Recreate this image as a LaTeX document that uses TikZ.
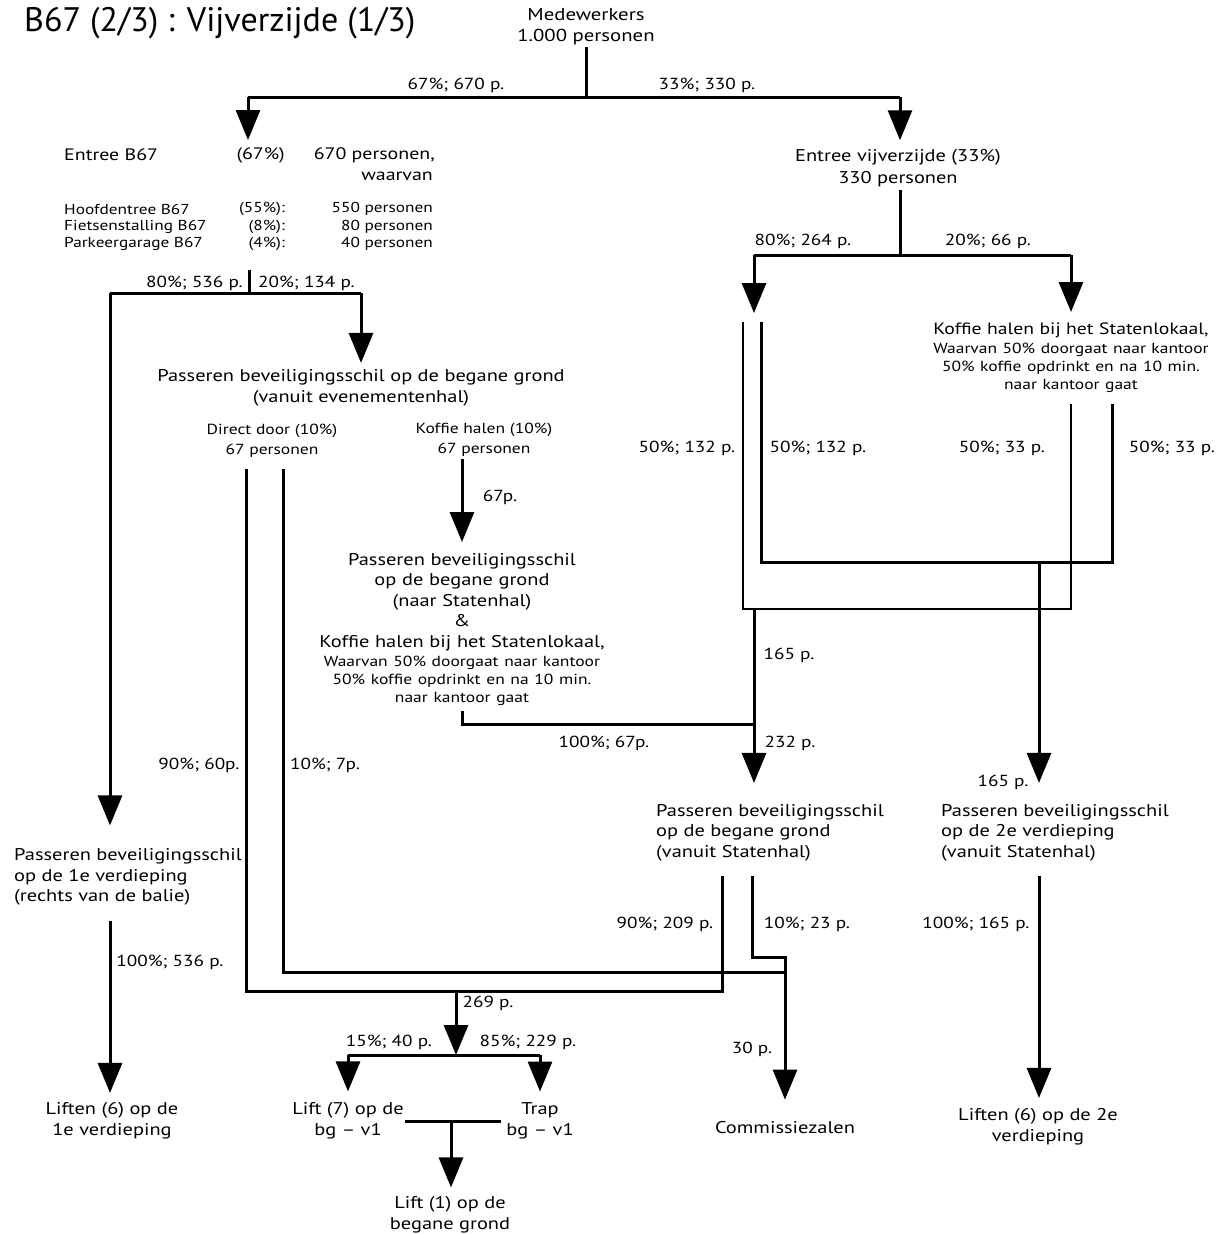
\documentclass[tikz,border=0pt]{standalone}
\usepackage{fontspec}
\setmainfont{PT Sans}[FakeStretch=1.2]
\newfontfamily\titlefont{PT Sans}
\usetikzlibrary{arrows.meta,calc}
\begin{document}
\begin{tikzpicture}[x=1pt,y=-1pt,
  every node/.style={inner sep=0pt, text=black},
  big/.style={font=\fontsize{17}{21}\selectfont, align=center},
  bigl/.style={font=\fontsize{17}{20.5}\selectfont, align=left},
  lbl/.style={font=\fontsize{16}{19}\selectfont},
  ent/.style={font=\fontsize{16.6}{19}\selectfont},
  sml/.style={font=\fontsize{14.6}{19.5}\selectfont, align=center},
  tny/.style={font=\fontsize{14.4}{17}\selectfont},
  mixed/.style={font=\fontsize{17}{20.5}\selectfont, text width=360pt, align=center, anchor=north},
  ln/.style={line width=3pt},
  arr/.style={line width=3pt, -{Triangle[width=24pt,length=30pt]}},
]
\useasboundingbox (0,0) rectangle (1216,1235);

% ---------- nodes ----------
\node[anchor=west, font=\titlefont\fontsize{34}{40}\selectfont] (title) at (24,23) {B67 (2/3) : Vijverzijde (1/3)};
\node[sml, font=\fontsize{17.3}{21}\selectfont] (med) at (586,26.5) {Medewerkers\\1.000 personen};

\node[ent, anchor=west] (e1) at (64,155) {Entree B67};
\node[ent, anchor=east] (e2) at (285,155) {(67\%)};
\node[ent, anchor=east] (e3) at (435,155) {670 personen,};
\node[ent, anchor=east] (e4) at (433,176) {waarvan};
\node[tny, anchor=west] (h1) at (64,209) {Hoofdentree B67};
\node[tny, anchor=east] (h2) at (285,209) {(55\%):};
\node[tny, anchor=east] (h3) at (433,209) {550 personen};
\node[tny, anchor=west] (f1) at (64,227) {Fietsenstalling B67};
\node[tny, anchor=east] (f2) at (285,227) {(8\%):};
\node[tny, anchor=east] (f3) at (433,227) {80 personen};
\node[tny, anchor=west] (p1) at (64,244) {Parkeergarage B67};
\node[tny, anchor=east] (p2) at (285,244) {(4\%):};
\node[tny, anchor=east] (p3) at (433,244) {40 personen};

\node[big, font=\fontsize{17}{21.5}\selectfont] (ev) at (898,168) {Entree vijverzijde (33\%)\\330 personen};

\node[big] (pbg) at (361,387.5) {Passeren beveiligingsschil op de begane grond\\(vanuit evenementenhal)};
\node[sml] (dd) at (272,440.5) {Direct door (10\%)\\67 personen};
\node[sml] (kh) at (484,439.5) {Koffie halen (10\%)\\67 personen};

\node[mixed] (mid) at (462,553) {Passeren beveiligingsschil\\op de begane grond\\(naar Statenhal)\\\&\\Koffie halen bij het Statenlokaal,\par\vspace{1pt}\fontsize{14.6}{18}\selectfont Waarvan 50\% doorgaat naar kantoor\\50\% koffie opdrinkt en na 10 min.\\naar kantoor gaat\par};

\node[mixed, font=\fontsize{16.4}{20.5}\selectfont] (kr) at (1071,323) {Koffie halen bij het Statenlokaal,\par\vspace{1pt}\fontsize{14.6}{18}\selectfont Waarvan 50\% doorgaat naar kantoor\\50\% koffie opdrinkt en na 10 min.\\naar kantoor gaat\par};

\node[bigl, anchor=west] (pf1) at (14,877) {Passeren beveiligingsschil\\op de 1e verdieping\\(rechts van de balie)};
\node[bigl, anchor=west] (pbs) at (656,832.5) {Passeren beveiligingsschil\\op de begane grond\\(vanuit Statenhal)};
\node[bigl, anchor=west] (p2e) at (941,832.5) {Passeren beveiligingsschil\\op de 2e verdieping\\(vanuit Statenhal)};

\node[big] (l6a) at (112,1120.5) {Liften (6) op de\\1e verdieping};
\node[big] (lift7) at (348,1121) {Lift (7) op de\\bg -- v1};
\node[big] (trap) at (540,1121) {Trap\\bg -- v1};
\node[big] (lift1) at (450,1215) {Lift (1) op de\\begane grond};
\node[big] (comm) at (785,1128) {Commissiezalen};
\node[big] (l6b) at (1038,1126.5) {Liften (6) op de 2e\\verdieping};

% ---------- labels ----------
\node[lbl] (t1) at (456,85) {67\%; 670 p.};
\node[lbl] (t2) at (707,85) {33\%; 330 p.};
\node[lbl, anchor=east] (t3) at (243,283) {80\%; 536 p.};
\node[lbl, anchor=west] (t4) at (258,283) {20\%; 134 p.};
\node[lbl] (t5) at (803,241) {80\%; 264 p.};
\node[lbl] (t6) at (988,241) {20\%; 66 p.};
\node[lbl] (t7) at (687,448) {50\%; 132 p.};
\node[lbl] (t8) at (818,448) {50\%; 132 p.};
\node[lbl] (t9) at (1002,448) {50\%; 33 p.};
\node[lbl] (t10) at (1172,448) {50\%; 33 p.};
\node[lbl] (t11) at (500,497) {67p.};
\node[lbl] (t12) at (789,655) {165 p.};
\node[lbl] (t13) at (604,743) {100\%; 67p.};
\node[lbl] (t14) at (790,743) {232 p.};
\node[lbl] (t15) at (199,765) {90\%; 60p.};
\node[lbl] (t16) at (325,765) {10\%; 7p.};
\node[lbl] (t17) at (1003,782) {165 p.};
\node[lbl] (t18) at (665,924) {90\%; 209 p.};
\node[lbl] (t19) at (807,924) {10\%; 23 p.};
\node[lbl] (t20) at (976,924) {100\%; 165 p.};
\node[lbl] (t21) at (170,962) {100\%; 536 p.};
\node[lbl] (t22) at (488,1003) {269 p.};
\node[lbl] (t23) at (389,1042) {15\%; 40 p.};
\node[lbl] (t24) at (528,1042) {85\%; 229 p.};
\node[lbl] (t25) at (752,1049) {30 p.};

% ---------- junction coordinates ----------
\coordinate (j0) at (586,97);
\coordinate (ja) at (248,97);
\coordinate (jb) at (900,97);
\coordinate (jB) at (249,270);
\coordinate (jBm) at (249,293);
\coordinate (jl) at (110,293);
\coordinate (jr) at (361,293);
\coordinate (xm) at (462,0);
\coordinate (c1) at (246,991);
\coordinate (c2) at (722,991);
\coordinate (c3) at (283,972);
\coordinate (c4) at (785,972);
\coordinate (c5) at (752,957);
\coordinate (c6) at (785,957);
\coordinate (c7) at (456,991);
\coordinate (c8) at (456,1055);
\coordinate (c9) at (348,1055);
\coordinate (c10) at (540,1055);
\coordinate (jm) at (451,1121);
\coordinate (d1) at (462,724);
\coordinate (d2) at (754,724);
\coordinate (d3) at (754,609);
\coordinate (v0) at (900,255);
\coordinate (vl) at (754,255);
\coordinate (vr) at (1071,255);
\coordinate (vt) at (754,313);
\coordinate (r1) at (743,322);
\coordinate (r2) at (743,609);
\coordinate (r3) at (1071,609);
\coordinate (q1) at (761,322);
\coordinate (q2) at (761,562);
\coordinate (q3) at (1112,562);
\coordinate (s1) at (1039,562);

% ---------- connectors ----------
\draw[ln, shorten <=2pt] (med.south -| j0) -- (j0);
\draw[ln] (ja) -- (jb);
\draw[arr, shorten >=7pt] (ja) -- (ja |- e2.north);
\draw[arr, shorten >=9pt] (jb) -- (jb |- ev.north);

\draw[ln] (jB) -- (jBm);
\draw[ln] (jl) -- (jr);
\draw[arr, shorten >=23pt] (jl) -- (jl |- pf1.north);
\draw[arr, shorten >=6pt] (jr) -- (jr |- pbg.north);

\draw[arr, shorten <=3pt, shorten >=11pt] (kh.south -| xm) -- (xm |- mid.north);
\draw[ln, shorten <=12pt, shorten >=15pt] (dd.south -| c1) -- (c1) -- (c2) -- (c2 |- pbs.south);
\draw[ln, shorten <=12pt] (dd.south -| c3) -- (c3) -- (c4);
\draw[arr, shorten <=15pt, shorten >=22pt] (pbs.south -| c5) -- (c5) -- (c6) -- (c6 |- comm.north);

\draw[arr] (c7) -- (c8);
\draw[ln] (c9) -- (c10);
\draw[arr, shorten >=11pt] (c9) -- (c9 |- lift7.north);
\draw[arr, shorten >=11pt] (c10) -- (c10 |- trap.north);
\draw[ln, shorten <=1pt, shorten >=5pt] (lift7.east |- jm) -- (trap.west |- jm);
\draw[arr, shorten >=9pt] (jm) -- (jm |- lift1.north);

\draw[arr, shorten <=15pt, shorten >=9pt] (pf1.south -| jl) -- (jl |- l6a.north);

\draw[ln, shorten <=5pt] (mid.south -| d1) -- (d1) -- (d2);
\draw[arr, shorten >=21pt] (d3) -- (d3 |- pbs.north);

\draw[ln, shorten <=3pt] (ev.south -| v0) -- (v0);
\draw[ln] (vl) -- (vr);
\draw[arr] (vl) -- (vt);
\draw[arr, shorten >=11pt] (vr) -- (vr |- kr.north);
\draw[ln, line width=2.2pt, shorten <=11pt] (kr.south -| r3) -- (r3) -- (r2) -- (r1);
\draw[ln, shorten <=11pt] (kr.south -| q3) -- (q3) -- (q2) -- (q1);
\draw[arr, shorten >=21pt] (s1) -- (s1 |- p2e.north);
\draw[arr, shorten <=15pt, shorten >=10pt] (p2e.south -| s1) -- (s1 |- l6b.north);
\end{tikzpicture}
\end{document}
